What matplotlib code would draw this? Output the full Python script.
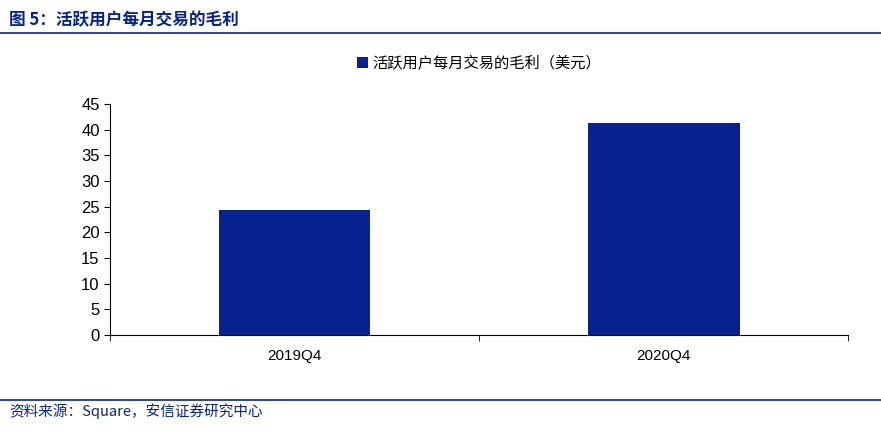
import matplotlib.pyplot as plt
from matplotlib.lines import Line2D

plt.rcParams['font.family'] = ['Noto Sans CJK SC', 'DejaVu Sans']

categories = ['2019Q4', '2020Q4']
values = [24.4, 41.3]
series_name = '活跃用户每月交易的毛利（美元）'
BLUE = '#06238f'

fig = plt.figure(figsize=(8.81, 4.40), dpi=100)
ax = fig.add_axes([0.125, 0.239, 0.838, 0.525])
ax.bar(range(len(categories)), values, width=0.41, color=BLUE, label=series_name)
ax.set_xlim(-0.5, len(categories) - 0.5)
ax.set_ylim(0, 45)
ax.set_yticks(range(0, 50, 5))
ax.set_xticks(range(len(categories)))
ax.set_xticklabels(categories, fontsize=11, family='Liberation Sans')
ax.set_xticks([-0.5, 0.5, 1.5], minor=True)
ax.tick_params(axis='x', which='major', length=0, pad=10)
ax.tick_params(axis='x', which='minor', length=4, direction='out')
ax.tick_params(axis='y', labelsize=12, length=4, direction='out')
for lab in ax.get_yticklabels():
    lab.set_family('Liberation Sans')
for s in ('top', 'right'):
    ax.spines[s].set_visible(False)
ax.legend(loc='lower center', bbox_to_anchor=(0.5, 1.08), frameon=False,
          fontsize=11, handlelength=0.7, handleheight=0.7, handletextpad=0.3)

fig.text(0.01, 0.955, '图 5：活跃用户每月交易的毛利', color=BLUE, fontsize=12,
         fontweight='bold', style='italic', va='center')
fig.add_artist(Line2D([0.0, 1.0], [0.925, 0.925], color=BLUE, lw=1.2))
fig.add_artist(Line2D([0.0, 1.0], [0.09, 0.09], color=BLUE, lw=1.2))
fig.text(0.01, 0.065, '资料来源：Square，安信证券研究中心', color=BLUE, fontsize=10.5,
         style='italic', va='center')

fig.savefig('out.png', dpi=100)
